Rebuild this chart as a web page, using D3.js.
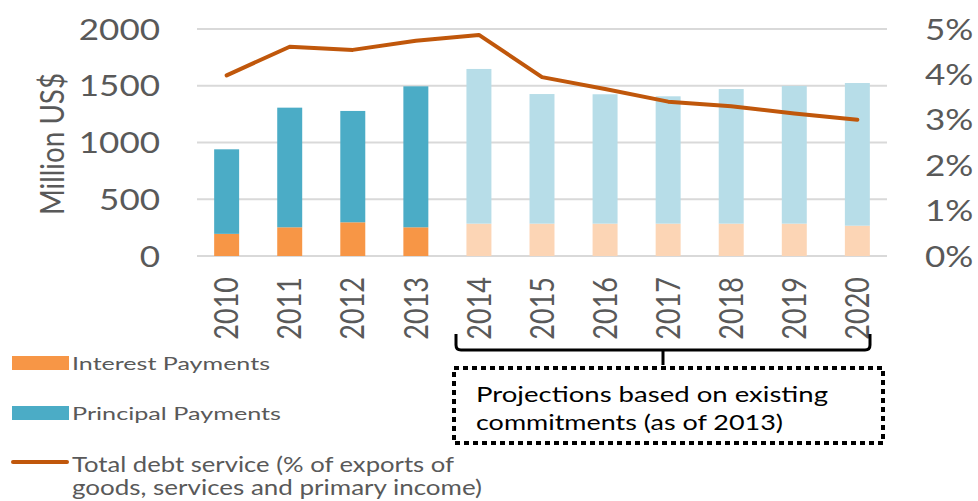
<!DOCTYPE html>
<html>
<head>
<meta charset="utf-8">
<script src="https://cdn.jsdelivr.net/npm/d3@7"></script>
<style>
  html, body { margin: 0; padding: 0; background: #fff; }
  svg { display: block; }
  text { font-family: Lato, "Open Sans", sans-serif; }
</style>
</head>
<body>
<svg id="chart" width="978" height="501"></svg>
<script>
// Debt service, actual (2010-2013) and projected (2014-2020)
const years = ["2010","2011","2012","2013","2014","2015","2016","2017","2018","2019","2020"];
const interest = [195, 253, 297, 253, 285, 285, 285, 285, 285, 285, 267];
const principal = [745, 1054, 981, 1242, 1363, 1142, 1140, 1122, 1186, 1213, 1257];
const debtServicePct = [3.98, 4.61, 4.54, 4.74, 4.87, 3.94, 3.68, 3.40, 3.30, 3.14, 3.00];
const projected = [false,false,false,false,true,true,true,true,true,true,true];
const leftTicks = [0, 500, 1000, 1500, 2000];
const rightTicks = [0, 1, 2, 3, 4, 5];

const colors = {
  interest: "#f79646", principal: "#4bacc6",
  interestProj: "#fcd5b5", principalProj: "#b7dde8",
  line: "#c0570b", grid: "#d9d9d9", text: "#595959"
};

const svg = d3.select("#chart");
const plot = { left: 197, right: 887, top: 29, bottom: 256 };
const sx = 1.25; // horizontal stretch of the chart's lettering

const x = d3.scaleBand().domain(years).range([plot.left, plot.right])
  .paddingInner(0.604).paddingOuter(0.272);
const y = d3.scaleLinear().domain([0, 2000]).range([plot.bottom, plot.top]);
const y2 = d3.scaleLinear().domain([0, 5]).range([plot.bottom, plot.top]);

// gridlines
svg.append("g").selectAll("line").data(leftTicks).join("line")
  .attr("x1", plot.left).attr("x2", plot.right)
  .attr("y1", d => y(d)).attr("y2", d => y(d))
  .attr("stroke", colors.grid).attr("stroke-width", 2);

// stacked bars
const rows = years.map((yr, i) => ({ yr, i, interest: interest[i], principal: principal[i], proj: projected[i] }));
const bars = svg.append("g");
bars.selectAll("rect.int").data(rows).join("rect").attr("class", "int")
  .attr("x", d => x(d.yr)).attr("width", x.bandwidth())
  .attr("y", d => y(d.interest)).attr("height", d => y(0) - y(d.interest))
  .attr("fill", d => d.proj ? colors.interestProj : colors.interest);
bars.selectAll("rect.pri").data(rows).join("rect").attr("class", "pri")
  .attr("x", d => x(d.yr)).attr("width", x.bandwidth())
  .attr("y", d => y(d.interest + d.principal)).attr("height", d => y(d.interest) - y(d.interest + d.principal))
  .attr("fill", d => d.proj ? colors.principalProj : colors.principal);

// debt service line
const line = d3.line().x((d, i) => x(years[i]) + x.bandwidth() / 2).y(d => y2(d));
svg.append("path").datum(debtServicePct).attr("d", line)
  .attr("fill", "none").attr("stroke", colors.line).attr("stroke-width", 4)
  .attr("stroke-linecap", "round").attr("stroke-linejoin", "round");

// left axis
const leftAxis = d3.axisLeft(y).tickValues(leftTicks).tickSize(0).tickPadding(0).tickFormat(d3.format("d"));
const gl = svg.append("g").attr("transform", "translate(160,0)").call(leftAxis);
gl.select(".domain").remove();
gl.selectAll("text").attr("x", 0).attr("dy", "0.36em")
  .attr("font-size", 28).attr("fill", colors.text).attr("font-family", "Lato")
  .attr("text-anchor", "end").attr("transform", `scale(${sx},1)`);

// right axis
const rightAxis = d3.axisRight(y2).tickValues(rightTicks).tickSize(0).tickPadding(0).tickFormat(d => d + "%");
const gr = svg.append("g").attr("transform", "translate(925,0)").call(rightAxis);
gr.select(".domain").remove();
gr.selectAll("text").attr("x", 0).attr("dy", "0.36em")
  .attr("font-size", 28).attr("fill", colors.text).attr("font-family", "Lato")
  .attr("text-anchor", "start").attr("transform", `scale(${sx},1)`);

// category labels
const xAxis = d3.axisBottom(x).tickSize(0).tickPadding(0);
const gx = svg.append("g").attr("transform", "translate(0,277)").call(xAxis);
gx.select(".domain").remove();
gx.selectAll("text")
  .attr("font-size", 27).attr("fill", colors.text).attr("font-family", "Lato")
  .attr("text-anchor", "end").attr("x", 0).attr("y", 0).attr("dy", "0.36em")
  .attr("transform", `scale(1.2,1) rotate(-90)`);

// y-axis title
svg.append("text").attr("transform", `translate(52,144) scale(${sx},1) rotate(-90)`)
  .attr("text-anchor", "middle").attr("dy", "0.36em")
  .attr("font-size", 26).attr("fill", colors.text)
  .attr("textLength", 142).attr("lengthAdjust", "spacingAndGlyphs")
  .text("Million US$");

// legend
const lg = svg.append("g");
lg.append("rect").attr("x", 12).attr("y", 356).attr("width", 57).attr("height", 14).attr("fill", colors.interest);
lg.append("rect").attr("x", 12).attr("y", 406).attr("width", 57).attr("height", 14).attr("fill", colors.principal);
lg.append("line").attr("x1", 13).attr("x2", 67).attr("y1", 462).attr("y2", 462)
  .attr("stroke", colors.line).attr("stroke-width", 4).attr("stroke-linecap", "round");
const legendText = [
  { t: "Interest Payments", y: 370, w: 198, s: 18 },
  { t: "Principal Payments", y: 420, w: 209, s: 18 },
  { t: "Total debt service (% of exports of", y: 472, w: 382, s: 21 },
  { t: "goods, services and primary income)", y: 495, w: 410, s: 21 }
];
lg.selectAll("text").data(legendText).join("text")
  .attr("x", 72).attr("y", d => d.y).attr("font-size", d => d.s).attr("fill", colors.text)
  .attr("textLength", d => d.w).attr("lengthAdjust", "spacingAndGlyphs")
  .text(d => d.t);

// projection bracket and note
const x0 = 456, x1 = 870, xm = 663, yt = 334, yb = 350;
svg.append("path")
  .attr("d", `M${x0},${yt} L${x0},${yb - 5} Q${x0},${yb} ${x0 + 5},${yb} L${x1 - 5},${yb} Q${x1},${yb} ${x1},${yb - 5} L${x1},${yt} M${xm},${yb} L${xm},${yb + 15}`)
  .attr("fill", "none").attr("stroke", "#000").attr("stroke-width", 3);
svg.append("rect").attr("x", 454).attr("y", 368).attr("width", 429).attr("height", 75)
  .attr("fill", "none").attr("stroke", "#000").attr("stroke-width", 4).attr("stroke-dasharray", "5,4");
const note = [
  { t: "Projections based on existing", y: 402, w: 352 },
  { t: "commitments (as of 2013)", y: 430, w: 307 }
];
svg.append("g").selectAll("text").data(note).join("text")
  .attr("x", 476).attr("y", d => d.y).attr("font-size", 22).attr("fill", "#000")
  .attr("textLength", d => d.w).attr("lengthAdjust", "spacingAndGlyphs")
  .text(d => d.t);
</script>
</body>
</html>
